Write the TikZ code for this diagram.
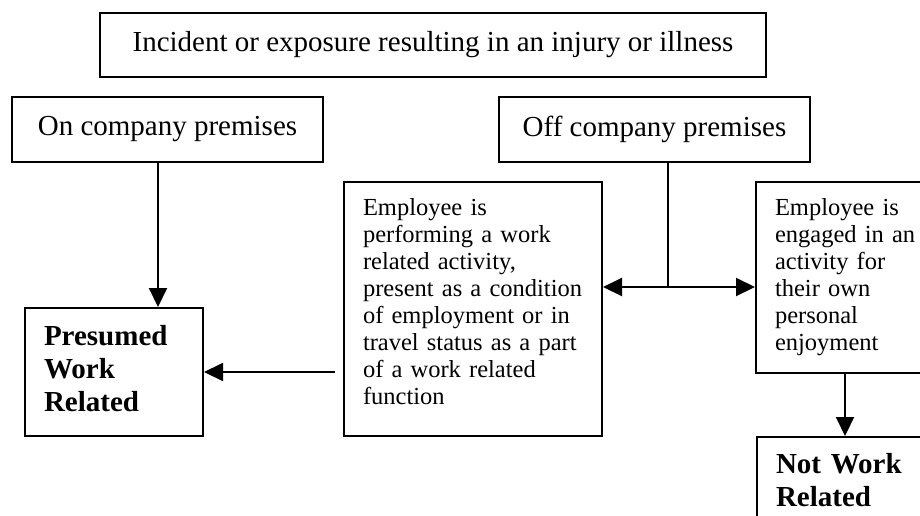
\documentclass[tikz,border=0pt]{standalone}
\usepackage{fontspec}
\setmainfont{Liberation Serif}
\usetikzlibrary{arrows.meta}

\begin{document}
\begin{tikzpicture}[x=0.5pt,y=-0.5pt,>={Triangle[length=9.5pt,width=9pt]},line width=1pt,
  big node/.style={draw,rectangle,inner sep=0pt,font=\fontsize{14.5pt}{16pt}\selectfont},
  bold node/.style={draw,rectangle,align=left,text width=70pt,inner xsep=9.5pt,font=\fontsize{14.5pt}{16.5pt}\selectfont\bfseries},
  small node/.style={draw,rectangle,align=left,inner xsep=9.5pt,font=\fontsize{12.25pt}{13.5pt}\selectfont}]
            \useasboundingbox (0,0) rectangle (920,515);

            \node[big node,minimum width=333pt,minimum height=32pt] (1) at (433,45) {Incident or exposure resulting in an injury or illness};

            \node[big node,minimum width=155.5pt,minimum height=32.5pt] (2) at (167.5,129.5) {On company premises};
            \node[big node,minimum width=155.5pt,minimum height=32.5pt] (3) at (654.5,129.5) {Off company premises};

            \node[bold node,minimum height=64pt] (4) at (114,372) {Presumed\\Work\\Related\\[-12.5pt]\mbox{}};
            \node[small node,text width=110pt,minimum height=127pt] (5) at (473,309) {Employee is\\performing a work\\related activity,\\present as a condition\\of employment or in\\travel status as a part\\of a work related\\function\\[-6pt]\mbox{}};
            \node[small node,text width=81pt,minimum height=95.5pt] (6) at (856,277.5) {Employee is\\engaged in an\\activity for\\their own\\personal\\enjoyment};
            \node[bold node,text width=81pt,inner ysep=8pt,anchor=north west] (7) at (756,436) {Not Work\\Related};

            \coordinate (a) at (158,0);
            \coordinate (b) at (668,287);
            \coordinate (c) at (845,0);

            \draw[->] (2.south -| a) -- (4.north -| a);
            \draw (3.south -| b) -- (b);
            \draw[->] (b) -- (5.east |- b);
            \draw[->] (b) -- (6.west |- b);
            \draw[->] (6.south -| c) -- (7.north -| c);
            \draw[->,shorten <=4pt] (5.west |- 4.east) -- (4.east);
        \end{tikzpicture}
\end{document}
